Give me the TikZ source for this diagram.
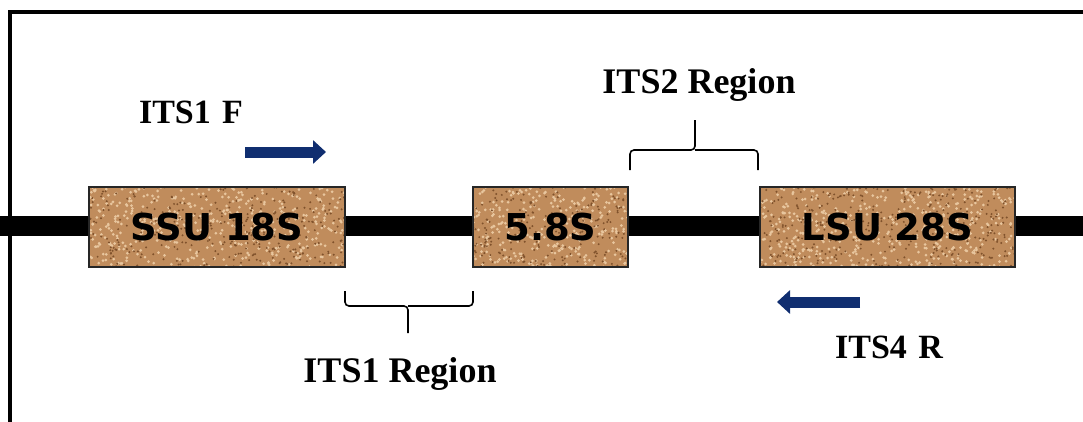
\documentclass[tikz,border=0pt]{standalone}
\usepackage{fontspec}
\setmainfont{Liberation Serif}
\newfontfamily\genefont{DejaVu Sans}
\usetikzlibrary{positioning,arrows.meta}
\definecolor{cork}{RGB}{192,140,92}
\definecolor{corklight}{RGB}{232,198,158}
\definecolor{corkdark}{RGB}{128,82,44}
\definecolor{primerblue}{RGB}{16,46,112}
\tikzset{
  gene/.style={draw=black!85, line width=2pt, fill=cork, minimum height=80pt,
    inner sep=0pt, font=\genefont\bfseries\fontsize{37}{40}\selectfont,
    path picture={
      \foreach \i in {1,...,500}{
        \pgfmathsetmacro\px{rnd*260}\pgfmathsetmacro\py{rnd*85}
        \fill[corklight] ([shift={(\px pt,-\py pt)}]path picture bounding box.north west) circle (1.5pt);}
      \foreach \i in {1,...,350}{
        \pgfmathsetmacro\px{rnd*260}\pgfmathsetmacro\py{rnd*85}
        \fill[corkdark] ([shift={(\px pt,-\py pt)}]path picture bounding box.north west) circle (1.1pt);}
    }},
  primer/.style={line width=11pt, primerblue, -{Triangle[width=23pt,length=13pt]}},
  region/.style={line width=1.6pt, rounded corners=4pt},
  lbl/.style={anchor=base, inner sep=0pt, font=\bfseries\fontsize{34}{36}\selectfont},
  rlbl/.style={lbl, font=\bfseries\fontsize{36}{38}\selectfont}
}
\begin{document}
\begin{tikzpicture}[x=1pt,y=-1pt]
  \useasboundingbox (0,0) rectangle (1083,421);
  \draw[line width=3.5pt] (10,12) rectangle (1110,450);
  % rDNA backbone
  \coordinate (start) at (0,226);
  \coordinate (end) at (1083,226);
  \draw[line width=20pt] (start) -- (end);
  \pgfmathsetseed{42}
  \node[gene, minimum width=256pt] (ssu) at (217,227) {SSU 18S};
  \node[gene, minimum width=155pt] (s58) at (550.5,227) {5.8S};
  \node[gene, minimum width=255pt] (lsu) at (887.5,227) {LSU 28S};
  % primers
  \coordinate (fwdA) at (245,152);
  \coordinate (fwdB) at (326,152);
  \draw[primer] (fwdA) -- (fwdB);
  \node[lbl] (its1f) at (191,123) {ITS1\,\,F};
  \coordinate (revA) at (860,302);
  \coordinate (revB) at (777,302);
  \draw[primer] (revA) -- (revB);
  \node[lbl] (its4r) at (889,358) {ITS4\,\,R};
  % ITS2 brace
  \coordinate (b2l) at (630,170);
  \coordinate (b2m) at (695,150);
  \coordinate (b2t) at (695,120);
  \coordinate (b2r) at (758,170);
  \draw[region] (b2l) |- (b2m) -- (b2t);
  \draw[region] (b2r) |- (b2m);
  \node[rlbl] (its2) at (699,93) {ITS2 Region};
  % ITS1 brace
  \coordinate (b1l) at (345,291);
  \coordinate (b1m) at (408,306);
  \coordinate (b1t) at (408,333);
  \coordinate (b1r) at (473,291);
  \draw[region] (b1l) |- (b1m) -- (b1t);
  \draw[region] (b1r) |- (b1m);
  \node[rlbl] (its1) at (400,382) {ITS1 Region};
\end{tikzpicture}
\end{document}
